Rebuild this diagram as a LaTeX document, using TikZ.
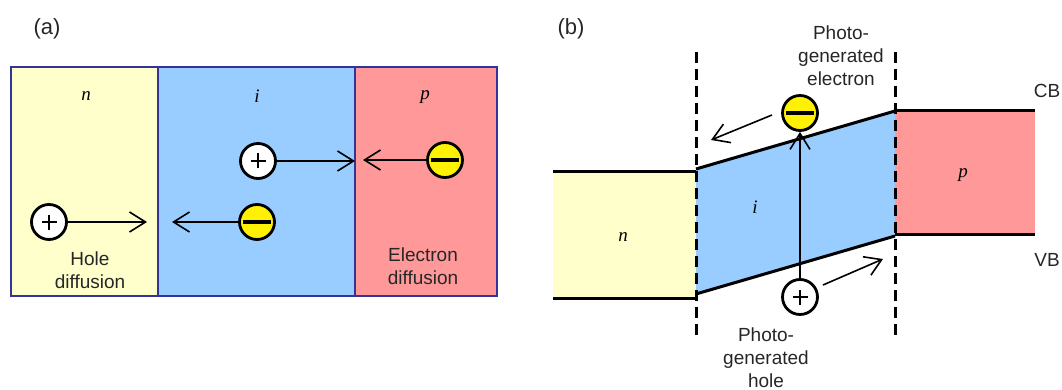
\documentclass[tikz,border=0pt]{standalone}
\usepackage{fontspec}
\setmainfont{Liberation Sans}
\newfontfamily\tagfont{Liberation Serif}
\usetikzlibrary{arrows.meta}
\usetikzlibrary{positioning}
\definecolor{pin-n}{HTML}{FFFFCC}
\definecolor{pin-i}{HTML}{99CCFF}
\definecolor{pin-p}{HTML}{FF9999}
\definecolor{pin-frame}{HTML}{333399}
\definecolor{pin-text}{HTML}{262626}

\begin{document}
\begin{tikzpicture}[x=1pt, y=-1pt,
    region/.style={draw=pin-frame, line width=1.5pt, outer sep=0pt, inner sep=0pt, minimum height=229pt, anchor=north west},
    charge/.style={circle, draw, line width=2.8pt, minimum size=35pt, inner sep=0pt},
    hole/.style={charge, fill=white, path picture={
        \draw[line width=1.3pt] ([xshift=-7.5pt]path picture bounding box.center) -- ([xshift=7.5pt]path picture bounding box.center);
        \draw[line width=1.3pt] ([yshift=-7.5pt]path picture bounding box.center) -- ([yshift=7.5pt]path picture bounding box.center);}},
    electron/.style={charge, fill=yellow, path picture={
        \draw[line width=3.5pt] ([xshift=-14pt]path picture bounding box.center) -- ([xshift=14pt]path picture bounding box.center);}},
    flow/.style={-{Straight Barb[length=16pt, width=20pt]}, line width=1.6pt},
    band/.style={line width=3pt},
    junction/.style={line width=3pt, dash pattern=on 11pt off 6pt},
    txt/.style={font=\fontsize{19}{23}\selectfont, align=center, text=pin-text},
    panel/.style={font=\fontsize{22}{22}\selectfont, text=pin-text},
    tag/.style={font=\fontsize{19}{19}\selectfont\tagfont\itshape}
]
    \useasboundingbox (0,0) rectangle (1062,390);

    % (a) Diffusion
    \node[panel] (a-label) at (47,29) {(a)};
    \node[region, fill=pin-n, minimum width=147pt] (an) at (11,67) {};
    \node[region, fill=pin-i, minimum width=197pt, right=0pt of an] (ai) {};
    \node[region, fill=pin-p, minimum width=142pt, right=0pt of ai] (ap) {};
    \node[tag] (an-tag) at (86,96) {n};
    \node[tag] (ai-tag) at (257,96) {i};
    \node[tag] (ap-tag) at (425,97) {p};

    \node[hole] (h-n) at (49,222) {};
    \coordinate (h-n-end) at (147,222);
    \draw[flow] (h-n) -- (h-n-end);
    \node[txt] (h-n-text) at (90,270) {Hole\\diffusion};

    \node[hole] (h-i) at (258,161) {};
    \draw[flow] (h-i) -- (h-i -| ai.east);
    \node[electron] (e-i) at (257,222) {};
    \coordinate (e-i-end) at (172,222);
    \draw[flow] (e-i) -- (e-i-end);

    \node[electron] (e-p) at (445,160) {};
    \coordinate (e-p-end) at (363,160);
    \draw[flow] (e-p) -- (e-p-end);
    \node[txt] (e-p-text) at (423,266) {Electron\\diffusion};

    % (b) Band diagram
    \node[panel] (b-label) at (571,29) {(b)};
    \coordinate (n-cb-l) at (553,172);
    \coordinate (n-cb-r) at (696,172);
    \coordinate (n-vb-l) at (553,298);
    \coordinate (n-vb-r) at (696,298);
    \coordinate (i-cb-l) at (696,169);
    \coordinate (i-cb-r) at (895,111);
    \coordinate (i-vb-l) at (696,294);
    \coordinate (i-vb-r) at (895,236);
    \coordinate (p-cb-r) at (1035,111);
    \coordinate (p-vb-l) at (895,234);
    \coordinate (p-vb-r) at (1035,234);

    \fill[pin-n] (n-cb-l) rectangle (n-vb-r);
    \fill[pin-i] (i-cb-l) -- (i-cb-r) -- (i-vb-r) -- (i-vb-l) -- cycle;
    \fill[pin-p] (i-cb-r) rectangle (p-vb-r);
    \draw[band] (n-cb-l) -- (n-cb-r);
    \draw[band] (n-vb-l) -- (n-vb-r);
    \draw[band] (i-cb-l) -- (i-cb-r);
    \draw[band] (i-vb-l) -- (i-vb-r);
    \draw[band] (i-cb-r) -- (p-cb-r);
    \draw[band] (p-vb-l) -- (p-vb-r);

    \coordinate (j1-top) at (696,52);
    \coordinate (j1-bot) at (696,340);
    \coordinate (j2-top) at (895,52);
    \coordinate (j2-bot) at (895,340);
    \draw[junction] (j1-top) -- (j1-bot);
    \draw[junction] (j2-top) -- (j2-bot);

    \node[tag] (bn-tag) at (623,237) {n};
    \node[tag] (bi-tag) at (755,207) {i};
    \node[tag] (bp-tag) at (963,175) {p};
    \node[txt] (cb-text) at (1047,91) {CB};
    \node[txt] (vb-text) at (1047,260) {VB};

    % Photo-generated pair
    \node[electron] (e-b) at (800,113) {};
    \node[hole] (h-b) at (800,297) {};
    \draw[flow] (h-b) -- (e-b);
    \coordinate (e-b-start) at (772,115);
    \coordinate (e-b-end) at (711,140);
    \draw[flow] (e-b-start) -- (e-b-end);
    \coordinate (h-b-start) at (823,285);
    \coordinate (h-b-end) at (883,259);
    \draw[flow] (h-b-start) -- (h-b-end);
    \node[txt] (e-b-text) at (841,56) {Photo-\\generated\\electron};
    \node[txt] (h-b-text) at (766,358) {Photo-\\generated\\hole};
\end{tikzpicture}
\end{document}
